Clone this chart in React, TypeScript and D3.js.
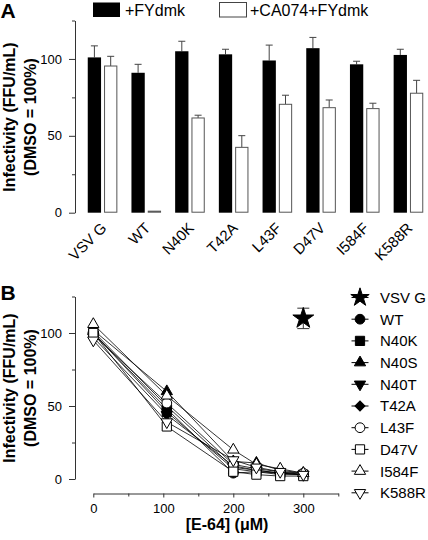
import React, { useEffect, useRef } from "react";
import * as d3 from "d3";

// ---------- Panel A data ----------
const groups = ["VSV G", "WT", "N40K", "T42A", "L43F", "D47V", "I584F", "K588R"];
const fydmk = [101, 91, 105, 103, 99, 107, 96.5, 102.6];
const fydmkErr = [108.5, 96.5, 111.5, 106.3, 109, 114, 98.5, 106.3];
const ca074 = [95.4, 1, 61.6, 42.5, 70.5, 68.3, 67.7, 77.7];
const ca074Err = [101.7, 1, 63.4, 50.1, 76.4, 73.3, 71.2, 86.1];
const legendA = ["+FYdmk", "+CA074+FYdmk"];
const yTicksA = [0, 50, 100];
const yMinorA = [25, 75, 125];

// ---------- Panel B data ----------
const e64 = [0, 105, 200, 233, 267, 300];
const seriesNames = ["WT", "N40K", "N40S", "N40T", "T42A", "L43F", "D47V", "I584F", "K588R"];
const wt = [100, 48, 4, 5, 3, 3];
const n40k = [100, 46, 7, 5, 4, 3];
const n40s = [102, 60, 12, 11, 6, 4];
const n40t = [97, 44, 9, 6, 4, 3];
const t42a = [101, 50, 8, 6, 4, 3];
const l43f = [99, 52, 10, 7, 5, 4];
const d47v = [100, 36, 5, 3, 2, 2];
const i584f = [106, 57, 20, 10, 7, 4];
const k588r = [95, 39, 13, 8, 5, 3];
const seriesValues = [wt, n40k, n40s, n40t, t42a, l43f, d47v, i584f, k588r];
const vsvX = 300;
const vsvY = 110;
const vsvLo = 103;
const vsvHi = 117;
const legendB = ["VSV G", ...seriesNames];
const yTicksB = [0, 50, 100];
const yMinorB = [25, 75, 125];
const xTicksB = [0, 100, 200, 300];
const xMinorB = [50, 150, 250, 350];

const FONT = "'Liberation Sans', Arial, Helvetica, sans-serif";

type Sym = { type: d3.SymbolType; filled: boolean; size: number; rot: number };
const symbols: Sym[] = [
  { type: d3.symbolStar, filled: true, size: 105, rot: 0 },
  { type: d3.symbolCircle, filled: true, size: 75, rot: 0 },
  { type: d3.symbolSquare, filled: true, size: 85, rot: 0 },
  { type: d3.symbolTriangle, filled: true, size: 55, rot: 0 },
  { type: d3.symbolTriangle, filled: true, size: 55, rot: 180 },
  { type: d3.symbolSquare, filled: true, size: 50, rot: 45 },
  { type: d3.symbolCircle, filled: false, size: 75, rot: 0 },
  { type: d3.symbolSquare, filled: false, size: 85, rot: 0 },
  { type: d3.symbolTriangle, filled: false, size: 55, rot: 0 },
  { type: d3.symbolTriangle, filled: false, size: 55, rot: 180 },
];

export default function App() {
  const ref = useRef<SVGSVGElement>(null);

  const yA = d3.scaleLinear().domain([0, 125]).range([212.7, 20.5]);
  const xA = d3.scaleBand<string>().domain(groups).range([80.7, 80.7 + 8 * 43.7]);
  const yB = d3.scaleLinear().domain([0, 125]).range([479, 296.5]);
  const xB = d3.scaleLinear().domain([0, 350]).range([93.3, 338.3]);

  useEffect(() => {
    const svg = d3.select(ref.current);
    svg.selectAll(".ax").remove();
    const style = (g: any) => {
      g.selectAll("path").attr("stroke", "#333").attr("stroke-width", 1);
      g.selectAll("line").attr("stroke", "#333").attr("stroke-width", 1);
      g.selectAll("text").attr("fill", "#000").attr("font-family", FONT).attr("font-size", 13);
    };
    const addAxis = (transform: string, axis: any, minor: boolean) => {
      const g = svg.append("g").attr("class", "ax").attr("transform", transform);
      g.call(axis);
      style(g);
      if (minor) g.select(".domain").remove();
    };
    const fmt = d3.format("d");
    addAxis("translate(75,0)", d3.axisLeft(yA).tickValues(yTicksA).tickSize(6).tickSizeOuter(0).tickPadding(7).tickFormat(fmt as any), false);
    addAxis("translate(75,0)", d3.axisLeft(yA).tickValues(yMinorA).tickSize(3).tickSizeOuter(0).tickFormat(() => ""), true);
    addAxis("translate(75,0)", d3.axisLeft(yB).tickValues(yTicksB).tickSize(6).tickSizeOuter(0).tickPadding(7).tickFormat(fmt as any), false);
    addAxis("translate(75,0)", d3.axisLeft(yB).tickValues(yMinorB).tickSize(3).tickSizeOuter(0).tickFormat(() => ""), true);
    addAxis("translate(0,493.5)", d3.axisBottom(xB).tickValues(xTicksB).tickSize(4).tickSizeOuter(0).tickPadding(6).tickFormat(fmt as any), false);
    addAxis("translate(0,493.5)", d3.axisBottom(xB).tickValues(xMinorB).tickSize(3).tickSizeOuter(0).tickFormat(() => ""), true);
  }, []);

  const bw = 13.3;
  const capA = 3.5;
  const line = d3
    .line<number>()
    .x((_, i) => xB(e64[i]))
    .y((d) => yB(d));

  const renderSym = (k: number, cx: number, cy: number, key: string, sizeOverride?: number) => (
    <path
      key={key}
      d={d3.symbol().type(symbols[k].type).size(sizeOverride ?? symbols[k].size)() || ""}
      transform={`translate(${cx},${cy}) rotate(${symbols[k].rot})`}
      fill={symbols[k].filled ? "#000" : "#fff"}
      stroke="#000"
      strokeWidth={1}
    />
  );

  return (
    <svg
      ref={ref}
      width={428}
      height={540}
      style={{ position: "absolute", left: 0, top: 0, background: "#fff" }}
      fontFamily={FONT}
    >
      {/* Panel labels */}
      <text x={0.5} y={18} fontSize={21} fontWeight="bold">A</text>
      <text x={0.5} y={300} fontSize={21} fontWeight="bold">B</text>

      {/* Legend A */}
      <rect x={93} y={2.5} width={27} height={14.5} fill="#000" />
      <text x={125} y={16} fontSize={16}>{legendA[0]}</text>
      <rect x={219.5} y={2.5} width={27} height={14.5} fill="#fff" stroke="#444" strokeWidth={1} />
      <text x={250} y={16} fontSize={16}>{legendA[1]}</text>

      {/* Y labels */}
      {[117, 388].map((cy, j) => (
        <g key={j} fontWeight="bold" fontSize={16} textAnchor="middle">
          <text transform={`translate(15,${cy}) rotate(-90)`}>Infectivity (FFU/mL)</text>
          <text transform={`translate(36,${cy}) rotate(-90)`}>(DMSO = 100%)</text>
        </g>
      ))}

      {/* Panel A bars */}
      {groups.map((g, i) => {
        const c = (xA(g) as number) + xA.bandwidth() / 2;
        const bx = c - 1.5 - bw / 2;
        const wx = c + 1.5 + bw / 2;
        return (
          <g key={g}>
            <line x1={bx} x2={bx} y1={yA(fydmk[i])} y2={yA(fydmkErr[i])} stroke="#444" />
            <line x1={bx - capA} x2={bx + capA} y1={yA(fydmkErr[i])} y2={yA(fydmkErr[i])} stroke="#444" />
            <rect x={c - 1.5 - bw} y={yA(fydmk[i])} width={bw} height={yA(0) - yA(fydmk[i])} fill="#000" />
            {ca074Err[i] > ca074[i] && (
              <>
                <line x1={wx} x2={wx} y1={yA(ca074[i])} y2={yA(ca074Err[i])} stroke="#444" />
                <line x1={wx - capA} x2={wx + capA} y1={yA(ca074Err[i])} y2={yA(ca074Err[i])} stroke="#444" />
              </>
            )}
            <rect
              x={c + 2}
              y={yA(ca074[i])}
              width={bw - 1}
              height={Math.max(1, yA(0) - yA(ca074[i]) - 0.5)}
              fill="#fff"
              stroke="#555"
              strokeWidth={1}
            />
            <text transform={`translate(${c + 5},${229}) rotate(-45)`} textAnchor="end" fontSize={15}>
              {g}
            </text>
          </g>
        );
      })}

      {/* Panel B lines */}
      {seriesValues.map((vals, s) => (
        <path key={"l" + s} d={line(vals) || ""} fill="none" stroke="#000" strokeWidth={0.8} />
      ))}
      {seriesValues.map((vals, s) => vals.map((v, i) => renderSym(s + 1, xB(e64[i]), yB(v), `p${s}-${i}`)))}
      {/* VSV G point */}
      <line x1={xB(vsvX)} x2={xB(vsvX)} y1={yB(vsvLo)} y2={yB(vsvHi)} stroke="#333" />
      <line x1={xB(vsvX) - 6} x2={xB(vsvX) + 6} y1={yB(vsvLo)} y2={yB(vsvLo)} stroke="#333" />
      <line x1={xB(vsvX) - 6} x2={xB(vsvX) + 6} y1={yB(vsvHi)} y2={yB(vsvHi)} stroke="#333" />
      {renderSym(0, xB(vsvX), yB(vsvY), "vsv", 135)}

      {/* X label B */}
      <text x={227} y={530} fontSize={16} fontWeight="bold" textAnchor="middle">[E-64] (μM)</text>

      {/* Legend B */}
      {legendB.map((name, k) => {
        const cy = 297.5 + k * 21.7;
        return (
          <g key={name}>
            <line x1={351.5} x2={368.5} y1={cy} y2={cy} stroke="#000" strokeWidth={1} />
            {renderSym(k, 360, cy, "lg" + k)}
            <text x={380} y={cy} dy="0.36em" fontSize={15}>{name}</text>
          </g>
        );
      })}
    </svg>
  );
}
